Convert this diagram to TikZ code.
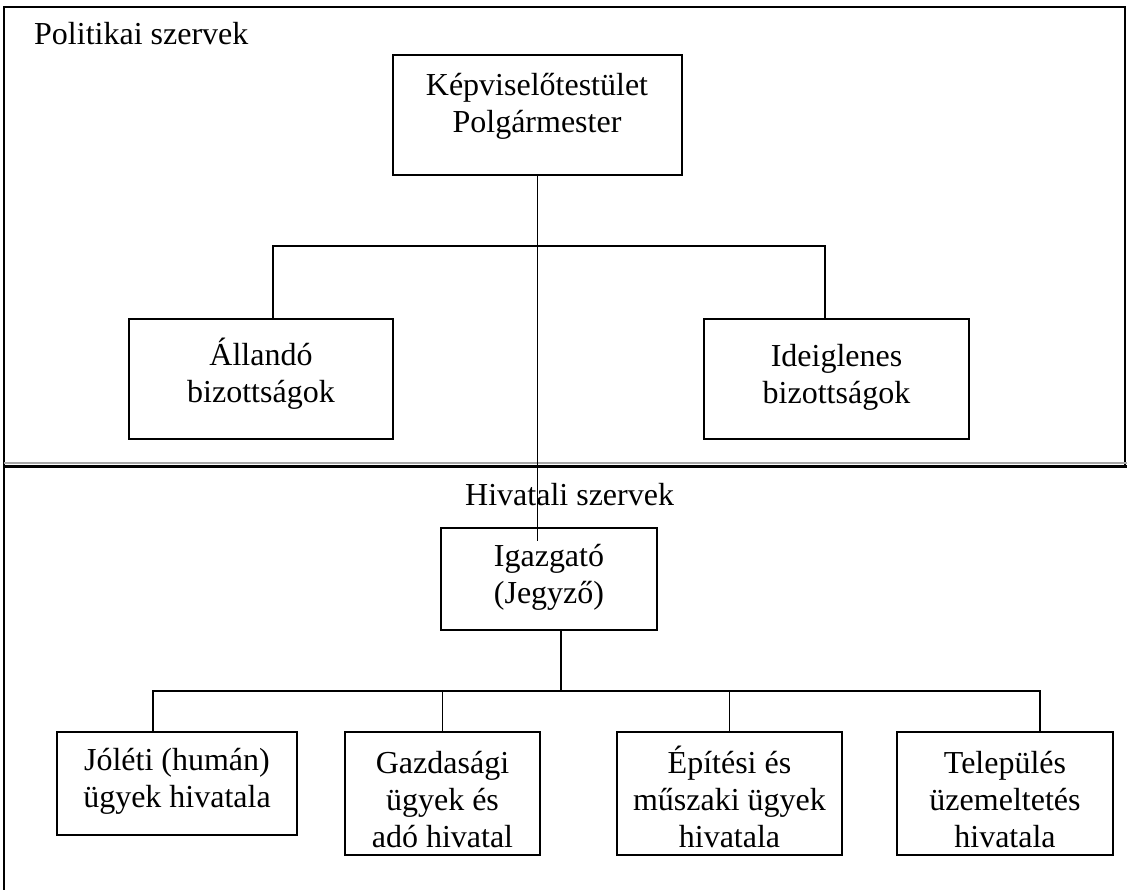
\documentclass[tikz,border=0pt]{standalone}
\usepackage{fontspec}
\setmainfont{Liberation Serif}
\begin{document}
\begin{tikzpicture}[x=1pt,y=-1pt,
  box/.style={draw, line width=1.9pt, inner sep=0pt},
  lbl/.style={align=center, inner sep=0pt, font=\fontsize{32}{37}\selectfont},
  conn/.style={line width=1.8pt},
  frame/.style={line width=2.2pt}]
\useasboundingbox (0,0) rectangle (1127,890);
% frame
\draw[frame] (4,890) -- (4,7) -- (1125,7) -- (1125,466);
\draw[gray!70, line width=1.6pt] (4,463) -- (1127,463);
\draw[frame] (4,466.5) -- (1127,466.5);
% section titles
\node[lbl, anchor=base west] (pol) at (34,45) {Politikai szervek};
\node[lbl, anchor=base west] (hiv) at (465,505) {Hivatali szervek};
% boxes
\node[box, minimum width=289pt, minimum height=120pt] (kt) at (537.5,115) {};
\node[box, minimum width=264pt, minimum height=120pt] (all) at (261,379) {};
\node[box, minimum width=265pt, minimum height=120pt] (ide) at (836.5,379) {};
\node[box, minimum width=216pt, minimum height=102pt] (igz) at (549,579) {};
\node[box, minimum width=240pt, minimum height=103pt] (jol) at (177,783.5) {};
\node[box, minimum width=195pt, minimum height=123pt] (gaz) at (442.5,793.5) {};
\node[box, minimum width=225pt, minimum height=123pt] (epi) at (729.5,793.5) {};
\node[box, minimum width=216pt, minimum height=123pt] (tel) at (1005,793.5) {};
% texts
\node[lbl] (ktt) at (537,106) {Képviselőtestület\\Polgármester};
\node[lbl] (allt) at (261,373.5) {Állandó\\bizottságok};
\node[lbl] (idet) at (836.5,377.5) {Ideiglenes\\bizottságok};
\node[lbl] (igzt) at (549,577) {Igazgató\\(Jegyző)};
\node[lbl] (jolt) at (177,781.5) {Jóléti (humán)\\ügyek hivatala};
\node[lbl] (gazt) at (442.5,800) {Gazdasági\\ügyek és\\adó hivatal};
\node[lbl] (epit) at (729.5,797) {Építési és\\műszaki ügyek\\hivatala};
\node[lbl] (telt) at (1005,800) {Település\\üzemeltetés\\hivatala};
% connectors
\coordinate (pl) at (273,246);
\coordinate (pr) at (825,246);
\coordinate (bh) at (561,691);
\coordinate (bl) at (153,691);
\coordinate (br) at (1040,691);
\draw[conn] (kt.south) -- ([yshift=-14pt]kt.south |- igz.north);
\draw[conn] (pl |- all.north) -- (pl) -- (pr) -- (pr |- ide.north);
\draw[conn] (bh |- igz.south) -- (bh);
\draw[conn] (bl |- jol.north) -- (bl) -- (br) -- (br |- tel.north);
\draw[conn] (gaz.north) -- (gaz.north |- bl);
\draw[conn] (epi.north) -- (epi.north |- bl);
\end{tikzpicture}
\end{document}
